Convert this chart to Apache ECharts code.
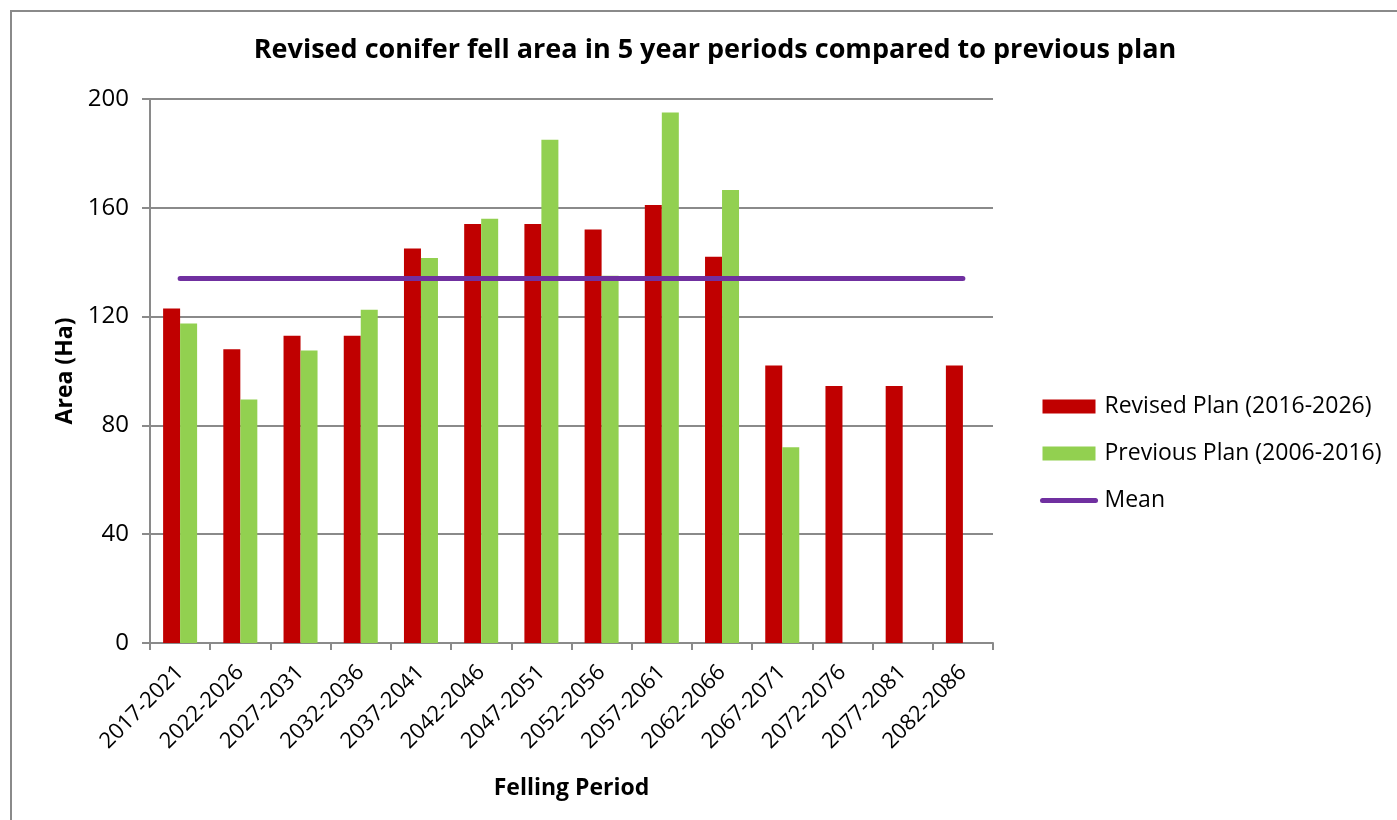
<!DOCTYPE html>
<html>
<head>
<meta charset="utf-8">
<script src="https://cdn.jsdelivr.net/npm/echarts@6/dist/echarts.min.js"></script>
<style>
html,body{margin:0;padding:0;background:#fff;}
#chart{width:1397px;height:820px;}
</style>
</head>
<body>
<div id="chart"></div>
<script>
const categories = ['2017-2021','2022-2026','2027-2031','2032-2036','2037-2041','2042-2046','2047-2051','2052-2056','2057-2061','2062-2066','2067-2071','2072-2076','2077-2081','2082-2086'];
const revisedPlan = [123, 108, 113, 113, 145, 154, 154, 152, 161, 142, 102, 94.5, 94.5, 102];
const previousPlan = [117.5, 89.5, 107.5, 122.5, 141.5, 156, 185, 135, 195, 166.5, 72, null, null, null];
const meanValue = 134;
const meanLine = categories.map(() => meanValue);
const yTicks = [0, 40, 80, 120, 160, 200];

const FONT = '"Open Sans"';
const chart = echarts.init(document.getElementById('chart'), null, {renderer: 'canvas'});
chart.setOption({
  animation: false,
  backgroundColor: '#ffffff',
  title: {
    text: 'Revised conifer fell area in 5 year periods compared to previous plan',
    left: 710, top: 32, textAlign: 'center',
    textStyle: {fontFamily: FONT, fontWeight: 'bold', fontSize: 27, color: '#000'}
  },
  graphic: [{
    type: 'rect', silent: true, z: -1,
    shape: {x: 11, y: 11, width: 1420, height: 840},
    style: {fill: 'none', stroke: '#8a8a8a', lineWidth: 2}
  }],
  legend: {
    orient: 'vertical', left: 1035, top: 390, itemGap: 24,
    itemWidth: 53, itemHeight: 14,
    textStyle: {fontFamily: FONT, fontSize: 23, color: '#000', padding: [0, 0, 0, 4]},
    data: [
      {name: 'Revised Plan (2016-2026)', icon: 'rect'},
      {name: 'Previous Plan (2006-2016)', icon: 'rect'},
      {name: 'Mean', itemStyle: {opacity: 0}, lineStyle: {width: 5, cap: 'round', color: '#7030A0'}}
    ]
  },
  grid: {left: 150, right: 404, top: 99, bottom: 177, containLabel: false},
  xAxis: {
    type: 'category', data: categories, boundaryGap: true,
    name: 'Felling Period', nameLocation: 'middle', nameGap: 134,
    nameTextStyle: {fontFamily: FONT, fontWeight: 'bold', fontSize: 23, color: '#000'},
    axisLine: {lineStyle: {color: '#8a8a8a', width: 2}},
    axisTick: {show: true, length: 7, lineStyle: {color: '#8a8a8a', width: 2}},
    axisLabel: {rotate: 45, margin: 26, interval: 0, fontFamily: FONT, fontSize: 22, color: '#000'}
  },
  yAxis: {
    type: 'value', min: 0, max: 200, interval: 40,
    name: 'Area (Ha)', nameLocation: 'middle', nameGap: 72, nameRotate: 90,
    nameTextStyle: {fontFamily: FONT, fontWeight: 'bold', fontSize: 23, color: '#000'},
    axisLine: {show: true, lineStyle: {color: '#8a8a8a', width: 2}},
    axisTick: {show: true, length: 8, lineStyle: {color: '#8a8a8a', width: 2}},
    axisLabel: {margin: 21, fontFamily: FONT, fontSize: 24, color: '#000',
      formatter: v => yTicks.includes(v) ? String(v) : ''},
    splitLine: {show: true, lineStyle: {color: '#8a8a8a', width: 2}}
  },
  series: [
    {name: 'Revised Plan (2016-2026)', type: 'bar', data: revisedPlan, barWidth: 17, barGap: '0%',
      itemStyle: {color: '#C00000'}},
    {name: 'Previous Plan (2006-2016)', type: 'bar', data: previousPlan, barWidth: 17, barGap: '0%',
      itemStyle: {color: '#92D050'}},
    {name: 'Mean', type: 'line', data: meanLine, symbol: 'none', z: 5,
      lineStyle: {color: '#7030A0', width: 5, cap: 'round'}, itemStyle: {color: '#7030A0'}}
  ]
});
</script>
</body>
</html>
